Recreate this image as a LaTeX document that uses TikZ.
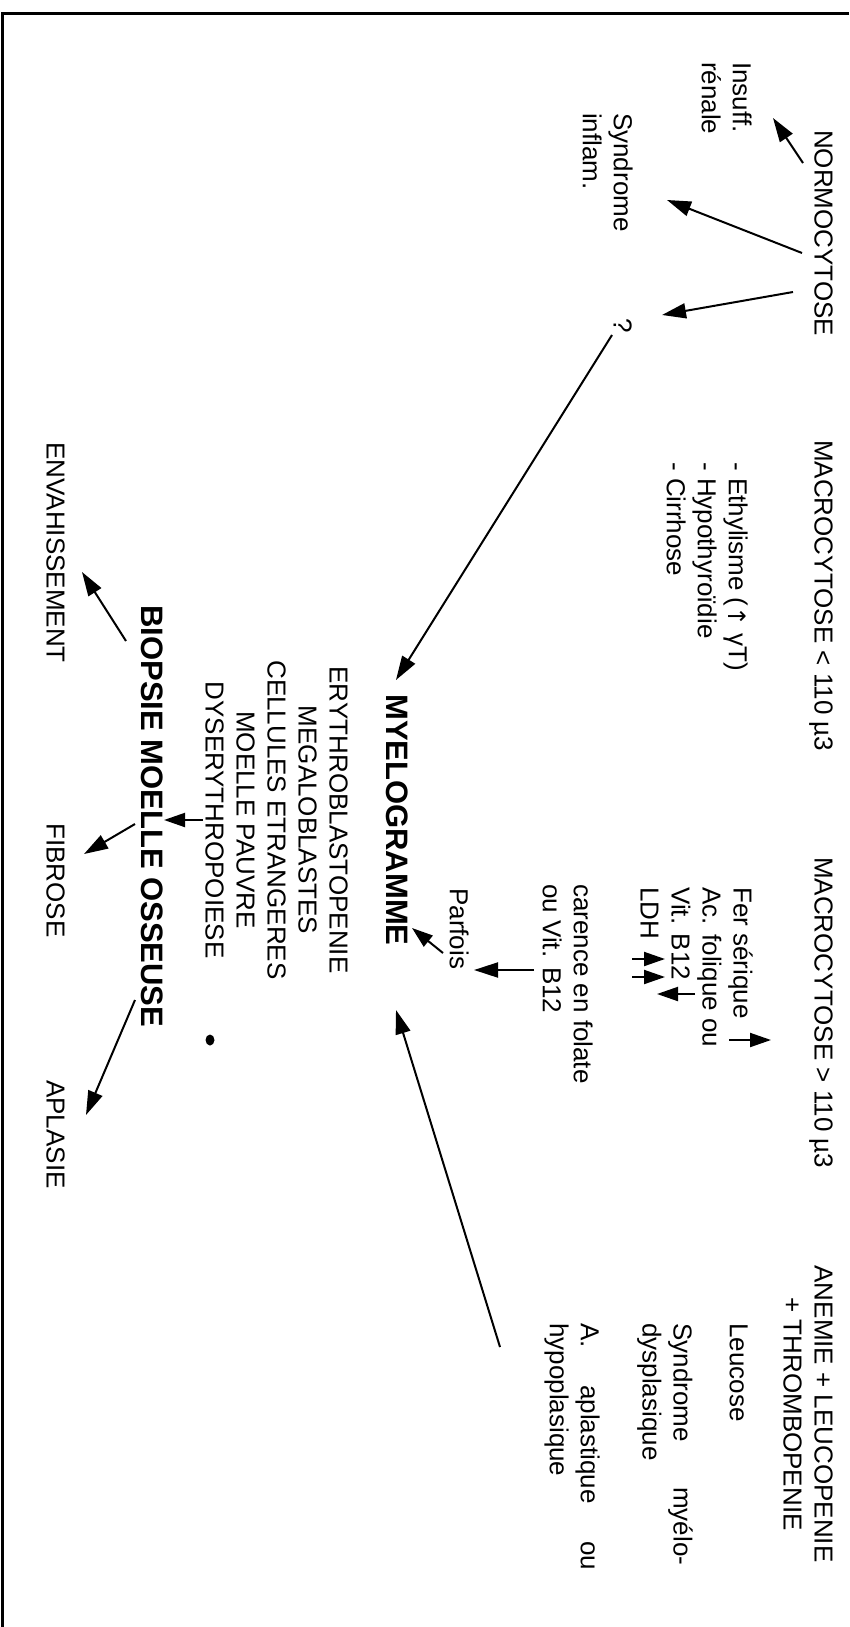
\documentclass[tikz,border=0pt]{standalone}
\usepackage{fontspec}
\setmainfont{Liberation Sans}
\newfontfamily\symfont{DejaVu Sans}
\usetikzlibrary{arrows.meta}
\begin{document}
\begin{tikzpicture}[x=1pt,y=-1pt,
  txt/.style={rotate=-90, anchor=north west, inner sep=0pt, font=\fontsize{26}{31}\selectfont, align=left},
  ctxt/.style={txt, anchor=north, align=center},
  ttl/.style={txt, font=\fontsize{31}{36}\selectfont\bfseries},
  arr/.style={-{Triangle[length=24pt,width=15pt]}, line width=2pt},
  sarr/.style={-{Triangle[length=21pt,width=14pt]}, line width=2pt},
  frame/.style={line width=3pt}]
\useasboundingbox (0,0) rectangle (849,1627);
% page frame
\coordinate (fTL) at (2,14);
\coordinate (fTR) at (849,14);
\coordinate (fBL) at (2,1627);
\draw[frame] (fTR) -- (fTL) -- (fBL);

% texts
\node[txt] (insuff) at (752,62) {Insuff.\\rénale};
\node[txt] (synd) at (633,113) {Syndrome\\inflam.};
\node[txt] (normo) at (833,130) {NORMOCYTOSE};
\node[txt] (q) at (632,318) {?};
\node[txt] (macro1) at (833,440) {MACROCYTOSE < 110 µ3};
\node[txt] (etiol) at (748,462) {- Ethylisme ({\symfont\fontsize{24}{31}\selectfont ↑} γT)\\- Hypothyroïdie\\- Cirrhose};
\node[txt] (macro2) at (833,857) {MACROCYTOSE > 110 µ3};
\node[txt] (fer) at (753,887) {Fer sérique\\Ac. folique ou\\Vit. B12\\LDH};
\node[txt] (carence) at (593,884) {carence en folate\\ou Vit. B12};
\node[txt] (parfois) at (469,888) {Parfois};
\node[ttl] (myelo) at (408,694) {MYELOGRAMME};
\node[ctxt] (liste) at (348,820) {ERYTHROBLASTOPENIE\\MEGALOBLASTES\\CELLULES ETRANGERES\\MOELLE PAUVRE\\DYSERYTHROPOIESE};
\node[ttl] (biopsie) at (163,605) {BIOPSIE MOELLE OSSEUSE};
\node[txt] (envah) at (65,442) {ENVAHISSEMENT};
\node[txt] (fibrose) at (65,823) {FIBROSE};
\node[txt] (aplasie) at (65,1080) {APLASIE};
\node[ctxt] (anemie) at (833,1414) {ANEMIE + LEUCOPENIE\\+ THROMBOPENIE};
\node[txt] (leucose) at (748,1323) {Leucose};
\node[txt] (syndmy) at (693,1323) {\makebox[242pt][s]{Syndrome myélo-}\\dysplasique};
\node[txt] (aplast) at (600,1323) {\makebox[247pt][s]{A. aplastique ou}\\hypoplasique};

% ink blot
\fill (210,1040) ellipse (4.5pt and 5.5pt);

% arrow end points
\coordinate (n1) at (803,163); \coordinate (t1) at (773,118);
\coordinate (n2) at (802,253); \coordinate (t2) at (667,200);
\coordinate (n3) at (793,292); \coordinate (t3) at (662,315);
\coordinate (q1) at (612,335); \coordinate (m1) at (396,680);
\coordinate (f1) at (729,1040); \coordinate (f2) at (771,1040);
\coordinate (b1) at (695,994); \coordinate (b2) at (657,994);
\coordinate (l1) at (632,959); \coordinate (l2) at (665,959);
\coordinate (l3) at (632,977); \coordinate (l4) at (665,977);
\coordinate (c1) at (534,970); \coordinate (c2) at (474,970);
\coordinate (p1) at (443,953); \coordinate (p2) at (412,928);
\coordinate (a1) at (500,1347); \coordinate (m2) at (396,1010);
\coordinate (d1) at (203,820); \coordinate (d2) at (164,820);
\coordinate (e1) at (126,641); \coordinate (e2) at (82,572);
\coordinate (g1) at (135,824); \coordinate (g2) at (84,854);
\coordinate (h1) at (135,1000); \coordinate (h2) at (86,1115);

\draw[arr] (n1) -- (t1);
\draw[arr] (n2) -- (t2);
\draw[arr] (n3) -- (t3);
\draw[arr] (q1) -- (m1);
\draw[sarr] (f1) -- (f2);
\draw[sarr] (b1) -- (b2);
\draw[sarr] (l1) -- (l2);
\draw[sarr] (l3) -- (l4);
\draw[arr] (c1) -- (c2);
\draw[sarr] (p1) -- (p2);
\draw[arr] (a1) -- (m2);
\draw[sarr] (d1) -- (d2);
\draw[arr] (e1) -- (e2);
\draw[arr] (g1) -- (g2);
\draw[arr] (h1) -- (h2);
\end{tikzpicture}
\end{document}
